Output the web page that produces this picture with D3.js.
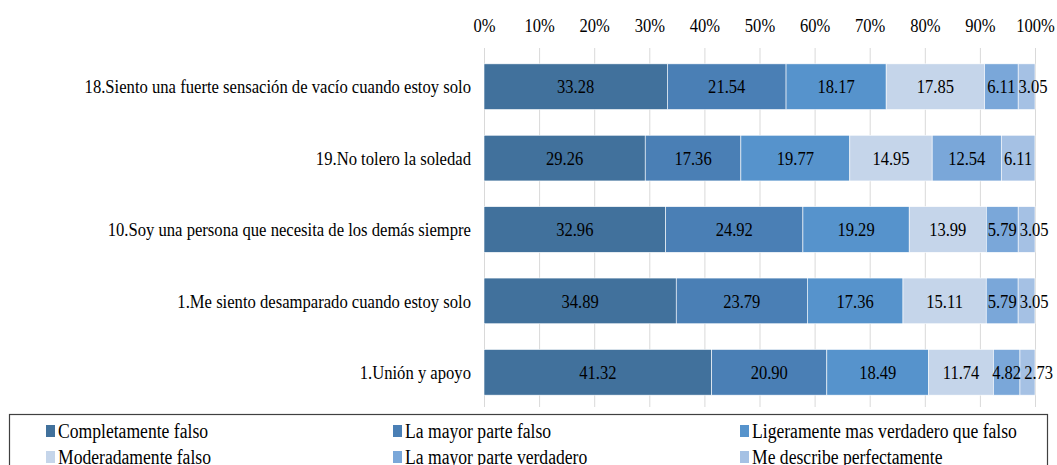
<!DOCTYPE html>
<html><head><meta charset="utf-8">
<script src="https://cdn.jsdelivr.net/npm/d3@7"></script>
<style>body{margin:0;background:#fff}svg{display:block}</style>
</head><body>
<script>
const categories = [
  "18.Siento una fuerte sensación de vacío cuando estoy solo",
  "19.No tolero la soledad",
  "10.Soy una persona que necesita de los demás siempre",
  "1.Me siento desamparado cuando estoy solo",
  "1.Unión y apoyo"
];
const seriesNames = [
  "Completamente falso",
  "La mayor parte falso",
  "Ligeramente mas verdadero que falso",
  "Moderadamente falso",
  "La mayor parte verdadero",
  "Me describe perfectamente"
];
const completamenteFalso   = [33.28, 29.26, 32.96, 34.89, 41.32];
const mayorParteFalso      = [21.54, 17.36, 24.92, 23.79, 20.90];
const ligeramente          = [18.17, 19.77, 19.29, 17.36, 18.49];
const moderadamenteFalso   = [17.85, 14.95, 13.99, 15.11, 11.74];
const mayorParteVerdadero  = [6.11, 12.54, 5.79, 5.79, 4.82];
const describePerfecto     = [3.05, 6.11, 3.05, 3.05, 2.73];
const tickValues = [0,10,20,30,40,50,60,70,80,90,100];
const seriesValues = [completamenteFalso, mayorParteFalso, ligeramente, moderadamenteFalso, mayorParteVerdadero, describePerfecto];
const colors = ["#41719c","#4a7fb5","#5693cc","#c5d5ea","#7aa7d9","#a5c1e4"];

const W = 1057, H = 465;
const FONT = "'Liberation Serif','Times New Roman',serif";
const svg = d3.select("body").append("svg").attr("width", W).attr("height", H);

function squash(sel, k){
  sel.each(function(){
    const l = this.getComputedTextLength();
    d3.select(this).attr("textLength", l*k).attr("lengthAdjust","spacingAndGlyphs");
  });
}

const x = d3.scaleLinear().domain([0,100]).range([484, 1035]);
const y = d3.scaleBand().domain(categories).range([51, 408]).paddingInner(0.36).paddingOuter(0.18);

// gridlines
svg.append("g").selectAll("line").data(tickValues).join("line")
  .attr("x1", d=>x(d)+0.5).attr("x2", d=>x(d)+0.5)
  .attr("y1", 48).attr("y2", 407)
  .attr("stroke", "#d9d9d9").attr("stroke-width", 1);

// top axis labels
const axis = svg.append("g").attr("transform","translate(0,32)")
  .call(d3.axisTop(x).tickValues(tickValues).tickFormat(d=>d+"%").tickSize(0).tickPadding(0));
axis.select(".domain").remove();
axis.selectAll("text").attr("font-family", FONT).attr("font-size", 19).attr("fill","#000").attr("dy",0);
axis.selectAll("text").call(squash, 0.87);

// stack
const rows = categories.map((c,i)=>{ const o={cat:c}; seriesNames.forEach((s,j)=>o[s]=seriesValues[j][i]); return o; });
const stack = d3.stack().keys(seriesNames)(rows);

const g = svg.append("g");
stack.forEach((layer, j)=>{
  g.append("g").selectAll("rect").data(layer).join("rect")
    .attr("x", d=>x(d[0])).attr("width", d=>x(d[1])-x(d[0]))
    .attr("y", d=>y(d.data.cat)).attr("height", y.bandwidth())
    .attr("fill", colors[j]).attr("stroke","#fff").attr("stroke-width",0.6);
});

// category labels
svg.append("g").selectAll("text").data(categories).join("text")
  .attr("x", 471).attr("y", d=>y(d)+y.bandwidth()/2).attr("dy","0.35em")
  .attr("text-anchor","end").attr("font-family",FONT).attr("font-size",19).attr("fill","#000")
  .text(d=>d).call(squash, 0.875);

// data labels
categories.forEach((c,i)=>{
  let prevRight = -Infinity;
  stack.forEach((layer,j)=>{
    const d = layer[i];
    const v = seriesValues[j][i];
    const t = svg.append("text").attr("font-family",FONT).attr("font-size",19).attr("fill","#000")
      .attr("text-anchor","start").attr("y", y(c)+y.bandwidth()/2).attr("dy","0.35em").text(v.toFixed(2));
    const w = t.node().getComputedTextLength()*0.87;
    t.attr("textLength", w).attr("lengthAdjust","spacingAndGlyphs");
    let cx = (x(d[0])+x(d[1]))/2;
    let left = cx - w/2;
    if (left < prevRight + 3) left = prevRight + 3;
    t.attr("x", left);
    prevRight = left + w;
  });
});

// legend
svg.append("rect").attr("x",9.5).attr("y",414.5).attr("width",1038).attr("height",60)
  .attr("fill","#fff").attr("stroke","#404040").attr("stroke-width",1.2);
const legX = [46, 393, 740], legY = [431, 457];
seriesNames.forEach((s,j)=>{
  const cx = legX[j%3], cy = legY[Math.floor(j/3)];
  svg.append("rect").attr("x",cx).attr("y",cy-6).attr("width",9).attr("height",12).attr("fill",colors[j]);
  svg.append("text").attr("x",cx+12).attr("y",cy).attr("dy","0.35em")
    .attr("font-family",FONT).attr("font-size",20).attr("fill","#000").text(s).call(squash, 0.88);
});
</script>
</body></html>
